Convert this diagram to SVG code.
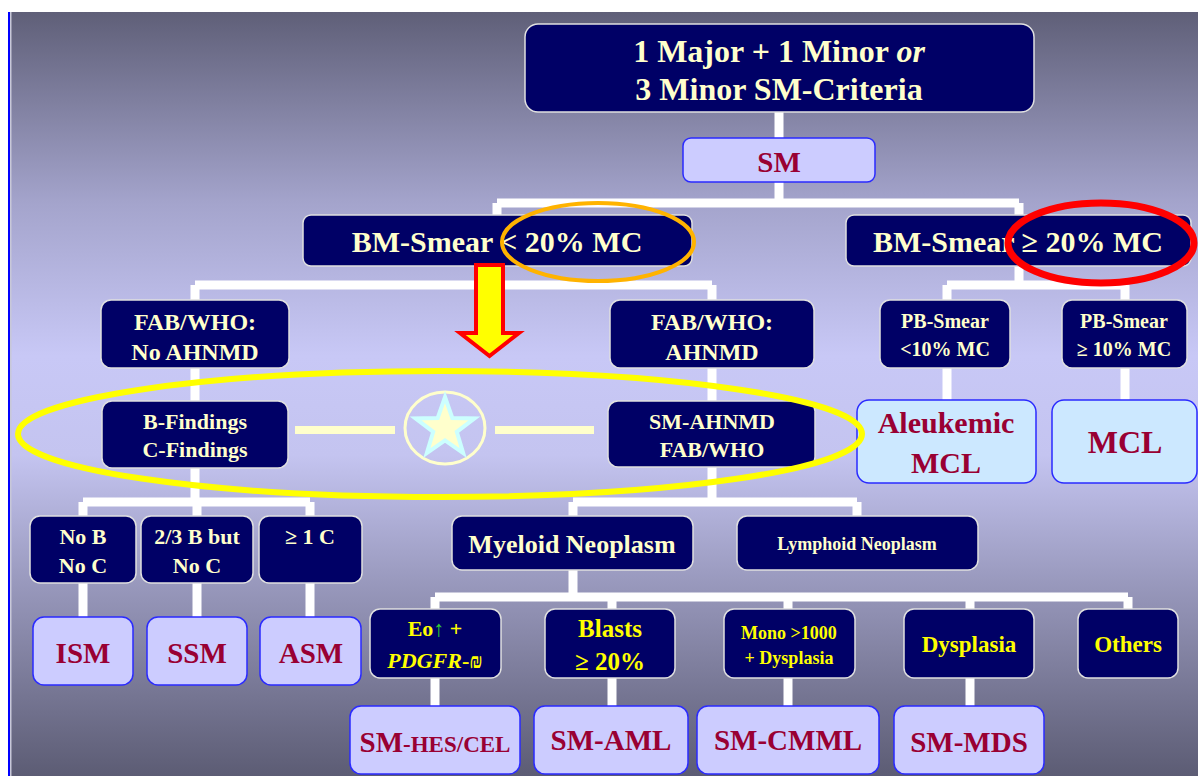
<svg xmlns="http://www.w3.org/2000/svg" width="1198" height="776" viewBox="0 0 1198 776">
<defs>
<linearGradient id="bg" x1="0" y1="0" x2="0" y2="1">
<stop offset="0" stop-color="#5f5f78"/>
<stop offset="0.25" stop-color="#a4a4cc"/>
<stop offset="0.45" stop-color="#c8c8f6"/>
<stop offset="0.58" stop-color="#c4c4f0"/>
<stop offset="0.75" stop-color="#9898bc"/>
<stop offset="1" stop-color="#5c5c74"/>
</linearGradient>
<style>
.dk{fill:#000066;stroke:#e0e0e0;stroke-width:1.5}
.lt{fill:#ccccff;stroke:#2a2aff;stroke-width:1.5}
.cy{fill:#cce8ff;stroke:#2a2aff;stroke-width:1.5}
.t{font-family:'Liberation Serif','Times New Roman',Times,'Noto Serif','DejaVu Serif',Tinos,FreeSerif,serif;font-weight:bold;text-anchor:middle}
.cr{fill:#ffffcc}
.yl{fill:#ffff00}
.rd{fill:#990033}
.ln{stroke:#ffffff;stroke-width:9;fill:none;stroke-linecap:butt}
</style>
</defs>
<rect x="0" y="0" width="1198" height="776" fill="#ffffff"/>
<rect x="10" y="12" width="1188" height="764" fill="url(#bg)"/>
<rect x="8" y="12" width="2" height="764" fill="#0000ff"/>
<rect x="10" y="12" width="1.5" height="764" fill="#c8c8d8"/>

<g id="connectors" class="ln">
<path d="M779,112V138 M779,182V203 M497,203H1019 M497,203V215 M1019,203V285"/>
<path d="M497,266V285 M195,285H712 M195,285V300 M712,285V300"/>
<path d="M947,285H1125 M947,285V300 M1125,285V300 M947,368V400 M1125,368V400"/>
<path d="M195,368V401 M195,468V502 M83,502H310 M83,502V516 M197,502V516 M310,502V516"/>
<path d="M83,583V617 M197,583V617 M310,583V617"/>
<path d="M712,368V401 M712,467V502 M573,502H857 M573,502V516 M857,502V516"/>
<path d="M573,570V597 M435,597H1128 M435,597V609 M612,597V609 M788,597V609 M970,597V609 M1128,597V609"/>
<path d="M435,678V706 M612,678V706 M788,678V706 M970,678V706"/>
</g>

<g id="criteria">
<rect class="dk" x="525" y="24" width="509" height="88" rx="13"/>
<text class="t cr" x="779" y="62" font-size="32">1 Major + 1 Minor <tspan font-style="italic">or</tspan></text>
<text class="t cr" x="779" y="100" font-size="32">3 Minor SM-Criteria</text>
</g>
<g id="sm">
<rect class="lt" x="683" y="138" width="192" height="44" rx="8"/>
<text class="t rd" x="779" y="172" font-size="29">SM</text>
</g>
<g id="bm-low">
<rect class="dk" x="303" y="215" width="389" height="51" rx="8"/>
<text class="t cr" x="497" y="252" font-size="30">BM-Smear &lt; 20% MC</text>
</g>
<g id="bm-high">
<rect class="dk" x="846" y="215" width="345" height="51" rx="8"/>
<text class="t cr" x="1018" y="252" font-size="30">BM-Smear ≥ 20% MC</text>
</g>
<g id="fab-no">
<rect class="dk" x="101" y="300" width="188" height="68" rx="10"/>
<text class="t cr" x="195" y="330" font-size="24">FAB/WHO:</text>
<text class="t cr" x="195" y="360" font-size="24">No AHNMD</text>
</g>
<g id="fab-yes">
<rect class="dk" x="610" y="300" width="204" height="68" rx="10"/>
<text class="t cr" x="712" y="330" font-size="24">FAB/WHO:</text>
<text class="t cr" x="712" y="360" font-size="24">AHNMD</text>
</g>
<g id="pb-low">
<rect class="dk" x="880" y="300" width="130" height="68" rx="10"/>
<text class="t cr" x="945" y="328" font-size="20">PB-Smear</text>
<text class="t cr" x="945" y="356" font-size="20">&lt;10% MC</text>
</g>
<g id="pb-high">
<rect class="dk" x="1062" y="300" width="125" height="68" rx="10"/>
<text class="t cr" x="1124" y="328" font-size="20">PB-Smear</text>
<text class="t cr" x="1124" y="356" font-size="20">≥ 10% MC</text>
</g>
<g id="bc-findings">
<rect class="dk" x="102" y="401" width="186" height="67" rx="10"/>
<text class="t cr" x="195" y="429" font-size="22">B-Findings</text>
<text class="t cr" x="195" y="457" font-size="22">C-Findings</text>
</g>
<g id="star-link">
<line x1="295" y1="430" x2="395" y2="430" stroke="#ffffcc" stroke-width="8"/>
<line x1="495" y1="430" x2="594" y2="430" stroke="#ffffcc" stroke-width="8"/>
<ellipse cx="445" cy="428" rx="40" ry="36" fill="none" stroke="#ffffcc" stroke-width="3"/>
<polygon points="445,397 452.3,418 474.5,418.4 456.8,431.8 463.2,453.1 445,440.4 426.8,453.1 433.2,431.8 415.5,418.4 437.7,418" fill="#ffffcc" stroke="#ccffff" stroke-width="4" stroke-linejoin="miter"/>
</g>
<g id="sm-ahnmd">
<rect class="dk" x="608" y="401" width="207" height="66" rx="10"/>
<text class="t cr" x="712" y="429" font-size="22">SM-AHNMD</text>
<text class="t cr" x="712" y="457" font-size="22">FAB/WHO</text>
</g>
<g id="aleukemic">
<rect class="cy" x="857" y="400" width="179" height="83" rx="12"/>
<text class="t rd" x="946" y="433" font-size="30">Aleukemic</text>
<text class="t rd" x="946" y="473" font-size="30">MCL</text>
</g>
<g id="mcl">
<rect class="cy" x="1052" y="400" width="145" height="83" rx="12"/>
<text class="t rd" x="1125" y="453" font-size="32">MCL</text>
</g>
<g id="nobnoc">
<rect class="dk" x="30" y="516" width="106" height="67" rx="10"/>
<text class="t cr" x="83" y="544" font-size="22">No B</text>
<text class="t cr" x="83" y="573" font-size="22">No C</text>
</g>
<g id="twothirds">
<rect class="dk" x="141" y="516" width="112" height="67" rx="10"/>
<text class="t cr" x="197" y="544" font-size="22">2/3 B but</text>
<text class="t cr" x="197" y="573" font-size="22">No C</text>
</g>
<g id="onec">
<rect class="dk" x="259" y="516" width="103" height="67" rx="10"/>
<text class="t cr" x="310" y="544" font-size="22">≥ 1 C</text>
</g>
<g id="ism">
<rect class="lt" x="33" y="617" width="100" height="68" rx="11"/>
<text class="t rd" x="83" y="663" font-size="29">ISM</text>
</g>
<g id="ssm">
<rect class="lt" x="147" y="617" width="100" height="68" rx="11"/>
<text class="t rd" x="197" y="663" font-size="29">SSM</text>
</g>
<g id="asm">
<rect class="lt" x="260" y="617" width="101" height="68" rx="11"/>
<text class="t rd" x="311" y="663" font-size="29">ASM</text>
</g>
<g id="myeloid">
<rect class="dk" x="452" y="516" width="241" height="54" rx="10"/>
<text class="t cr" x="572" y="553" font-size="26">Myeloid Neoplasm</text>
</g>
<g id="lymphoid">
<rect class="dk" x="737" y="516" width="241" height="54" rx="10"/>
<text class="t cr" x="857" y="550" font-size="18">Lymphoid Neoplasm</text>
</g>
<g id="eo">
<rect class="dk" x="370" y="609" width="131" height="69" rx="10"/>
<text class="t yl" x="435" y="636" font-size="22">Eo<tspan fill="#33cc33">↑</tspan> +</text>
<text class="t yl" x="435" y="668" font-size="22"><tspan font-style="italic">PDGFR</tspan>-₪</text>
</g>
<g id="blasts">
<rect class="dk" x="545" y="609" width="130" height="69" rx="10"/>
<text class="t yl" x="610" y="637" font-size="25">Blasts</text>
<text class="t yl" x="610" y="670" font-size="25">≥ 20%</text>
</g>
<g id="mono">
<rect class="dk" x="724" y="609" width="131" height="69" rx="10"/>
<text class="t yl" x="789" y="639" font-size="18">Mono &gt;1000</text>
<text class="t yl" x="789" y="664" font-size="18">+ Dysplasia</text>
</g>
<g id="dysplasia">
<rect class="dk" x="904" y="609" width="130" height="69" rx="10"/>
<text class="t yl" x="969" y="652" font-size="23">Dysplasia</text>
</g>
<g id="others">
<rect class="dk" x="1078" y="609" width="100" height="69" rx="10"/>
<text class="t yl" x="1128" y="652" font-size="23">Others</text>
</g>
<g id="sm-hes">
<rect class="lt" x="350" y="706" width="170" height="68" rx="11"/>
<text class="t rd" x="435" y="752" font-size="29">SM<tspan font-size="23">-HES/CEL</tspan></text>
</g>
<g id="sm-aml">
<rect class="lt" x="534" y="706" width="154" height="68" rx="11"/>
<text class="t rd" x="611" y="750" font-size="29">SM-AML</text>
</g>
<g id="sm-cmml">
<rect class="lt" x="697" y="706" width="182" height="68" rx="11"/>
<text class="t rd" x="788" y="750" font-size="29">SM-CMML</text>
</g>
<g id="sm-mds">
<rect class="lt" x="894" y="706" width="150" height="68" rx="11"/>
<text class="t rd" x="969" y="752" font-size="29">SM-MDS</text>
</g>

<g id="highlights" fill="none">
<ellipse cx="440" cy="434" rx="422" ry="63" stroke="#ffff00" stroke-width="6"/>
<ellipse cx="598" cy="242" rx="96" ry="39" stroke="#ffb300" stroke-width="4"/>
<ellipse cx="1101" cy="243" rx="93" ry="40" stroke="#ff0000" stroke-width="7"/>
<polygon points="476,265 503,265 503,333 519,333 489.5,356 460,333 476,333" fill="#ffff00" stroke="#ff0000" stroke-width="4"/>
</g>
</svg>
